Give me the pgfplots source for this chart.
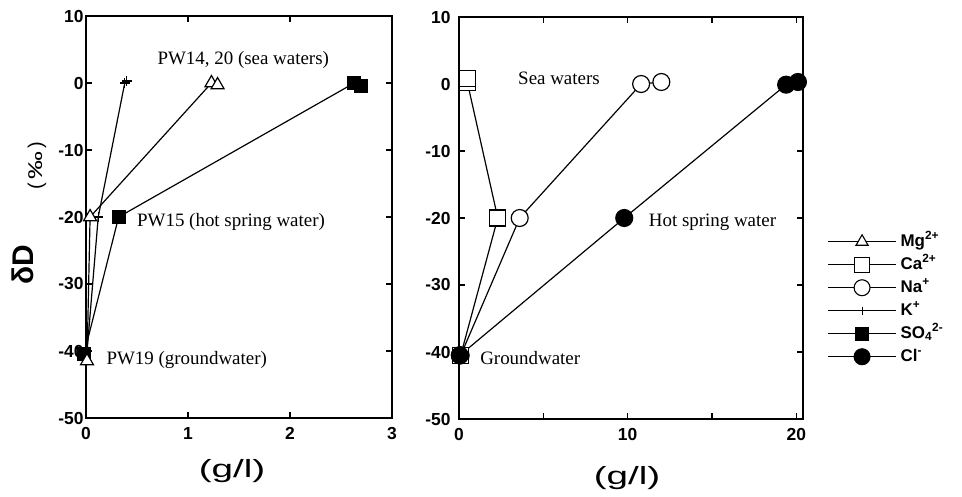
\documentclass[border=0pt]{standalone}
\usepackage{fontspec}
\setmainfont{Liberation Sans}
\newfontfamily\tnr{Liberation Serif}
\usepackage{graphicx}
\usepackage{pgfplots}
\pgfplotsset{compat=1.18}
\pgfplotsset{
  myax/.style={
    scale only axis, clip=false,
    axis line style={line width=1.4pt},
    every tick/.style={line width=1.2pt, black},
    major tick length=6bp, minor tick length=6bp,
    tick align=inside,
    ymin=-50, ymax=10, ytick={-50,-40,...,10},
    ticklabel style={font=\fontsize{17.5}{17.5}\selectfont\bfseries},
    /pgf/number format/assume math mode=true,
    xticklabel style={yshift=-6bp},
    every axis plot/.append style={line width=1.2pt, black, forget plot},
  },
}
\tikzset{ann/.style={font=\tnr\fontsize{19}{19}\selectfont, anchor=west, inner sep=0pt}}
\begin{document}
\begin{tikzpicture}
\useasboundingbox (0bp,0bp) rectangle (962bp,497bp);
% left panel
\begin{axis}[myax, at={(86bp,79bp)}, anchor=south west, width=306bp, height=402bp,
  xmin=0, xmax=3, xtick={0,1,2,3},
  yticklabel style={xshift=1bp}]
% SO4
\addplot[mark=square*, mark options={fill=black, solid}, mark size=6.5] coordinates {(-0.02,-40.5) (0.32,-20) (2.63,0) (2.70,-0.4)};
% K
\addplot[mark=+, mark options={solid, line width=1.1pt}, mark size=5] coordinates {(0.005,-41) (0.12,-20) (0.38,0) (0.40,0.3)};
% Mg
\addplot[mark=triangle*, mark options={fill=white, solid}, mark size=7.5] coordinates {(0.01,-41.5) (0.04,-20) (1.23,0) (1.29,-0.3)};
\node[ann] at (axis cs:0.70,3.4) {PW14, 20 (sea waters)};
\node[ann] at (axis cs:0.50,-20.8) {PW15 (hot spring water)};
\node[ann] at (axis cs:0.20,-41.4) {PW19 (groundwater)};
\end{axis}
% right panel
\begin{axis}[myax, at={(459bp,78bp)}, anchor=south west, width=344bp, height=402bp,
  xmin=0, xmax=20.4, xtick={0,5,10,15,20}, xticklabels={0,,10,,20},
  yticklabel style={xshift=-5bp},
  legend style={at={(1.062,0.475)}, anchor=north west, draw=none, fill=none,
    font=\fontsize{17}{17}\selectfont\bfseries, row sep=0pt,
    nodes={inner sep=4bp, text height=12bp, text depth=3bp}},
  legend cell align=left,
  legend image code/.code={\draw[mark repeat=2, mark phase=2, line width=1.1pt] plot coordinates {(0bp,0bp) (34bp,0bp) (68bp,0bp)};}]
% Cl
\addplot[mark=*, mark options={fill=black, solid}, mark size=8.5] coordinates {(0.05,-40.5) (9.8,-20) (19.4,-0.1) (20.1,0.3)};
% Na
\addplot[mark=*, mark options={fill=white, solid}, mark size=8.5] coordinates {(0.1,-40.5) (3.6,-20) (10.8,0) (12.0,0.3)};
% Ca
\addplot[mark=square*, mark options={fill=white, solid}, mark size=8] coordinates {(0.1,-40.5) (2.3,-20) (0.5,0.2) (0.5,0.8)};
\addplot[mark=*, mark options={fill=black}, mark size=8.5] coordinates {(0.05,-40.5)};
\node[ann] at (axis cs:3.5,0.8) {Sea waters};
\node[ann] at (axis cs:11.25,-20.6) {Hot spring water};
\node[ann] at (axis cs:1.25,-40.9) {Groundwater};
% legend
\addlegendimage{black, mark=triangle*, mark options={fill=white, solid}, mark size=7}
\addlegendentry{Mg\textsuperscript{2+}}
\addlegendimage{black, mark=square*, mark options={fill=white, solid}, mark size=7.5}
\addlegendentry{Ca\textsuperscript{2+}}
\addlegendimage{black, mark=*, mark options={fill=white, solid}, mark size=8}
\addlegendentry{Na\textsuperscript{+}}
\addlegendimage{black, mark=|, mark options={solid, line width=1pt}, mark size=4}
\addlegendentry{K\textsuperscript{+}}
\addlegendimage{black, mark=square*, mark options={fill=black, solid}, mark size=6.5}
\addlegendentry{SO\textsubscript{4}\textsuperscript{2-}}
\addlegendimage{black, mark=*, mark options={fill=black, solid}, mark size=8}
\addlegendentry{Cl\textsuperscript{-}}
\end{axis}
% labels
\node[rotate=90, inner sep=0pt, font=\fontsize{30}{30}\selectfont\bfseries] at (23bp,232bp) {δD};
\node[rotate=90, inner sep=0pt, font=\fontsize{20}{20}\selectfont] at (37bp,331bp) {(\,\scalebox{1.4}[1]{‰}\,)};
\node[inner sep=0pt, font=\fontsize{25}{25}\selectfont] at (232bp,26bp) {\scalebox{1.55}[1]{(g/l)}};
\node[inner sep=0pt, font=\fontsize{25}{25}\selectfont] at (627bp,19bp) {\scalebox{1.55}[1]{(g/l)}};
\end{tikzpicture}
\end{document}
